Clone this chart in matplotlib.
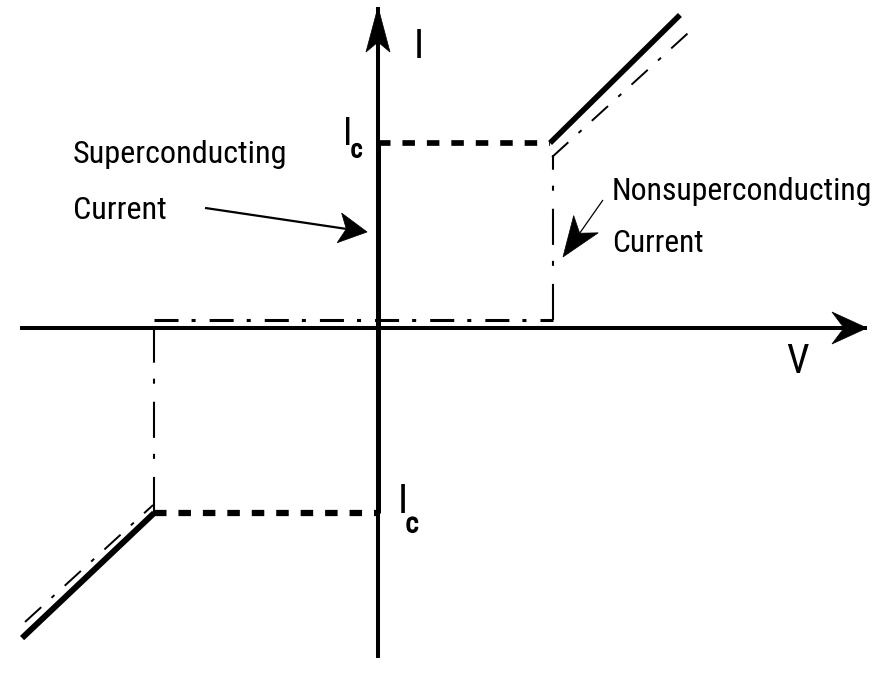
import numpy as np
import matplotlib
matplotlib.use("Agg")
import matplotlib.pyplot as plt
import matplotlib.patheffects as pe
from matplotlib.patches import Polygon
from matplotlib.transforms import IdentityTransform
from matplotlib import font_manager as fm

plt.rcParams["lines.scale_dashes"] = False


def narrow_font():
    """Pick a narrow/condensed sans face if one is installed."""
    best = None
    for f in fm.fontManager.ttflist:
        st = f.stretch
        narrow = ("Narrow" in f.name or "Condensed" in f.name
                  or st in ("condensed", "semi-condensed", "extra-condensed")
                  or (isinstance(st, int) and st < 500))
        if not narrow or f.style != "normal":
            continue
        w = f.weight if isinstance(f.weight, int) else {"normal": 400, "regular": 400}.get(f.weight, 700)
        if w != 400:
            continue
        if "Mono" in f.name or "Serif" in f.name:
            continue
        best = f.fname
        if "Liberation" in f.name:
            break
    if best:
        return fm.FontProperties(fname=best)
    return fm.FontProperties(family=["Liberation Sans", "DejaVu Sans"])


# ---- Josephson junction I-V characteristic (normalised units, I_c = 1) ----
I_c = 1.0

# superconducting (zero-voltage) branch
sc_V = [0.0, 0.0]
sc_I = [-I_c, I_c]

# critical-current levels (dashed)
ic_up_V = [0.0, 0.93]
ic_up_I = [I_c, I_c]
ic_dn_V = [-1.21, 0.0]
ic_dn_I = [-I_c, -I_c]

# resistive (normal) branches
nb_up_V = [0.93, 1.632]
nb_up_I = [1.0, 1.692]
nb_dn_V = [-1.21, -1.924]
nb_dn_I = [-1.0, -1.676]

# return path (dash-dot)
ret_up_V = [0.941, 1.724]
ret_up_I = [0.924, 1.638]
ret_rv_V = [0.946, 0.946]
ret_rv_I = [0.043, 0.935]
ret_h_V = [-1.211, 0.946]
ret_h_I = [0.043, 0.043]
ret_lv_V = [-1.211, -1.211]
ret_lv_I = [-1.0, 0.043]
ret_dn_V = [-1.216, -1.908]
ret_dn_I = [-0.957, -1.589]

# coordinate axes extents
v_axis = [-1.935, 2.643]
i_axis = [-1.784, 1.735]

fig = plt.figure(figsize=(8.85, 6.98), dpi=100)
ax = fig.add_axes([0, 0, 1, 1])
ax.set_xlim(-378 / 185, 507 / 185)
ax.set_ylim(-370 / 185, 328 / 185)
ax.axis("off")
fig.patch.set_facecolor("white")

K = "black"

# axes lines
ax.plot(v_axis, [0, 0], color=K, lw=2.9, solid_capstyle="butt")
ax.plot([0, 0], i_axis, color=K, lw=2.9, solid_capstyle="butt")

# superconducting branch
ax.plot(sc_V, sc_I, color=K, lw=3.6, solid_capstyle="butt")

# critical current dashes
ax.plot(ic_up_V, ic_up_I, color=K, lw=4.1, dashes=(9.0, 8.6))
ax.plot(ic_dn_V, ic_dn_I, color=K, lw=4.5, dashes=(9.0, 8.6))

# normal branches
ax.plot(nb_up_V, nb_up_I, color=K, lw=4.0, solid_capstyle="butt")
ax.plot(nb_dn_V, nb_dn_I, color=K, lw=4.3, solid_capstyle="butt")

# return path
dd_h = (17.3, 9.4, 2.9, 10.1)
dd_v = (26.0, 13.0, 3.6, 11.5)
dd_s = (15.8, 10.0, 2.9, 10.0)
ax.plot(ret_h_V, ret_h_I, color=K, lw=2.2, dashes=dd_h)
ax.plot(ret_rv_V, ret_rv_I, color=K, lw=1.5, dashes=dd_v)
ax.plot(ret_lv_V, ret_lv_I, color=K, lw=1.5, dashes=dd_v)
ax.plot(ret_up_V, ret_up_I, color=K, lw=1.4, dashes=dd_s)
ax.plot(ret_dn_V[::-1], ret_dn_I[::-1], color=K, lw=1.4, dashes=dd_s)


def stealth(tip, tail, length, half_w, notch, line_w=None):
    """Filled notched arrowhead at `tip`, pointing away from `tail` (sizes in px)."""
    t = ax.transData.transform(tip)
    s = ax.transData.transform(tail)
    d = (t - s) / np.hypot(*(t - s))
    n = np.array([-d[1], d[0]])
    back = t - d * length
    pts = [t, back + n * half_w, t - d * (length - notch), back - n * half_w]
    ax.add_patch(Polygon(pts, closed=True, facecolor=K, edgecolor=K, lw=0.5,
                         transform=IdentityTransform()))
    if line_w is not None:
        end = ax.transData.inverted().transform(t - d * (length - notch))
        ax.plot([tail[0], end[0]], [tail[1], end[1]], color=K, lw=line_w,
                solid_capstyle="butt")


# axis arrowheads
stealth((v_axis[1], 0.0), (v_axis[0], 0.0), 35, 16, 12)
stealth((0.0, i_axis[1]), (0.0, i_axis[0]), 45, 12, 10)

# annotation arrows
stealth((-0.059, 0.519), (-0.935, 0.649), 28, 15, 7, line_w=1.6)
stealth((1.0, 0.384), (1.216, 0.692), 40, 15, 11, line_w=0.9)

# labels
FP = narrow_font()
renderer = fig.canvas.get_renderer()
heavy = [pe.withStroke(linewidth=1.0, foreground=K)]


def txt(x, y, s, size, width_px=None, **kw):
    fp = FP.copy()
    fp.set_size(size)
    t = ax.text(x, y, s, fontproperties=fp, color=K, ha="left",
                va="baseline", **kw)
    if width_px is not None:
        w = t.get_window_extent(renderer).width
        t.set_fontsize(size * width_px / w)
    return t


txt(-1.649, 0.892, "Superconducting", 24.5, width_px=215)
txt(-1.649, 0.589, "Current", 24.5, width_px=94)
txt(1.265, 0.692, "Nonsuperconducting", 25, width_px=261)
txt(1.265, 0.411, "Current", 25, width_px=92)

txt(0.195, 1.459, "I", 29)
txt(-0.190, 0.989, "I", 27)
txt(-0.147, 0.924, "c", 18, path_effects=heavy)
txt(0.105, -1.0, "I", 29)
txt(0.150, -1.103, "c", 20, path_effects=heavy)
txt(2.205, -0.243, "V", 29)

txt(0.595, -2.14, "Fig. 1.1", 25)

fig.savefig("out.png", dpi=100, facecolor="white")
